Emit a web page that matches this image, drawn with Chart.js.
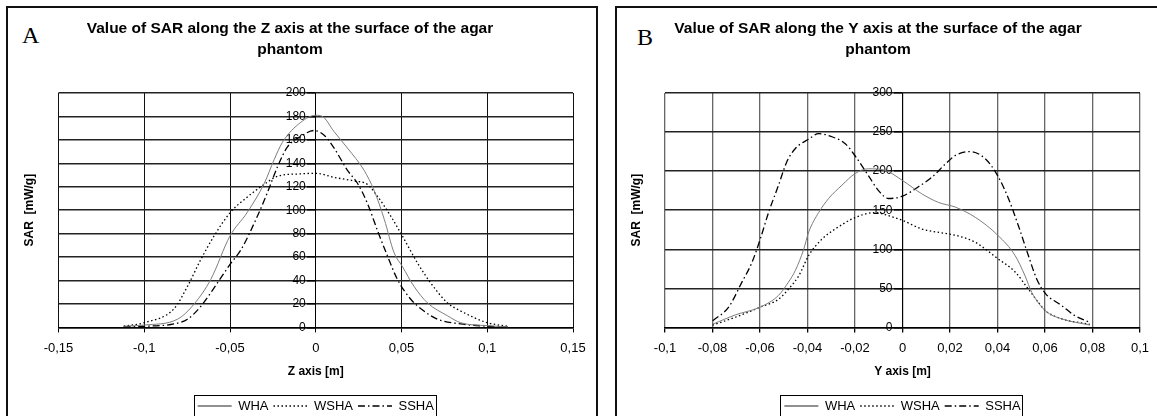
<!DOCTYPE html>
<html><head><meta charset="utf-8">
<script src="https://cdn.jsdelivr.net/npm/chart.js@4/dist/chart.umd.min.js"></script>
<style>
html,body{margin:0;padding:0;background:#fff;width:1157px;height:416px;overflow:hidden;position:relative;}
.panel{position:absolute;border:2px solid #111;box-sizing:border-box;}
#pA{left:6px;top:6px;width:592px;height:430px;}
#pB{left:615px;top:6px;width:550px;height:430px;}
.lab{position:absolute;font-family:'Liberation Serif','Times New Roman',serif;font-size:24px;line-height:24px;color:#000;}
canvas{position:absolute;}
</style></head><body>
<div class="panel" id="pA"></div><div class="panel" id="pB"></div>
<div class="lab" style="left:22px;top:23px">A</div>
<div class="lab" style="left:637px;top:25px">B</div>
<canvas id="cA" width="590" height="420" style="left:7px;top:7px"></canvas>
<canvas id="cB" width="548" height="420" style="left:616px;top:7px"></canvas>
<script>
// ---------- Panel A (Z axis) ----------
const titleA = ['Value of SAR along the Z axis at the surface of the agar', 'phantom'];
const xTitleA = 'Z axis [m]';
const xTicksA = [-0.15, -0.1, -0.05, 0, 0.05, 0.1, 0.15];
const xTickLabelsA = ['-0,15', '-0,1', '-0,05', '0', '0,05', '0,1', '0,15'];
const yTicksA = [0, 20, 40, 60, 80, 100, 120, 140, 160, 180, 200];
const yTickLabelsA = ['0', '20', '40', '60', '80', '100', '120', '140', '160', '180', '200'];

const zA_WHA = [-0.112, -0.100, -0.0806, -0.0709, -0.0612, -0.050, -0.040, -0.030, -0.0243, -0.0194, -0.0087, 0, 0.0039, 0.0107, 0.0185, 0.0282, 0.034, 0.040, 0.0456, 0.0505, 0.0573, 0.0651, 0.0767, 0.0845, 0.100, 0.112];
const sarA_WHA = [1, 2, 7, 20, 41, 78, 98, 123, 143, 158, 175, 181, 180, 167, 153, 134, 117, 92, 64, 52, 35, 21, 10, 4, 1.5, 0.5];

const zA_WSHA = [-0.112, -0.100, -0.0826, -0.0748, -0.067, -0.0593, -0.0499, -0.0418, -0.0301, -0.0223, -0.0087, 0, 0.0107, 0.0223, 0.0301, 0.0359, 0.0437, 0.0505, 0.0593, 0.067, 0.0767, 0.0845, 0.100, 0.112];
const sarA_WSHA = [1, 4, 16, 35, 58, 78, 98, 109, 122, 129, 131, 131.5, 128, 125, 122, 112, 95, 78, 55, 38, 21, 14, 4, 1];

const zA_SSHA = [-0.112, -0.100, -0.0826, -0.0748, -0.067, -0.0573, -0.0499, -0.0437, -0.034, -0.0282, -0.0223, -0.0165, -0.0087, -0.001, 0.0049, 0.0107, 0.0185, 0.0243, 0.0301, 0.0359, 0.0418, 0.0476, 0.0554, 0.0631, 0.0709, 0.0845, 0.100, 0.112];
const sarA_SSHA = [0.5, 1, 3, 7, 18, 38, 54, 66, 95, 115, 137, 154, 163, 168, 164, 153, 134, 123, 106, 83, 61, 41, 24, 14, 7, 3, 1, 0.3];

// ---------- Panel B (Y axis) ----------
const titleB = ['Value of SAR along the Y axis at the surface of the agar', 'phantom'];
const xTitleB = 'Y axis [m]';
const xTicksB = [-0.1, -0.08, -0.06, -0.04, -0.02, 0, 0.02, 0.04, 0.06, 0.08, 0.1];
const xTickLabelsB = ['-0,1', '-0,08', '-0,06', '-0,04', '-0,02', '0', '0,02', '0,04', '0,06', '0,08', '0,1'];
const yTicksB = [0, 50, 100, 150, 200, 250, 300];
const yTickLabelsB = ['0', '50', '100', '150', '200', '250', '300'];

const yB_WHA = [-0.08, -0.0704, -0.0599, -0.0522, -0.048, -0.0451, -0.0416, -0.0395, -0.0353, -0.0311, -0.0255, -0.0199, -0.0143, -0.0073, 0, 0.0081, 0.0151, 0.0222, 0.0306, 0.0401, 0.0474, 0.0516, 0.0544, 0.0603, 0.067, 0.0789];
const sarB_WHA = [4, 16, 26, 41, 58, 73, 100, 122, 147, 165, 182, 197, 203, 201, 188, 171, 160, 154, 141, 118, 92, 66, 45, 21, 11, 3];

const yB_WSHA = [-0.08, -0.0704, -0.0599, -0.0522, -0.048, -0.0437, -0.0395, -0.0339, -0.0283, -0.0196, -0.0115, -0.0059, 0, 0.0081, 0.0165, 0.0222, 0.0306, 0.0401, 0.0474, 0.053, 0.0572, 0.0603, 0.067, 0.0789];
const sarB_WSHA = [3, 13, 26, 36, 49, 66, 92, 113, 126, 141, 147, 143, 137, 126, 121, 118, 109, 88, 71, 49, 32, 21, 11, 4];

const yB_SSHA = [-0.0799, -0.0732, -0.0676, -0.0634, -0.0599, -0.0564, -0.0522, -0.0487, -0.0451, -0.0395, -0.0353, -0.0297, -0.0241, -0.0196, -0.0143, -0.0101, -0.0059, 0, 0.0067, 0.0123, 0.018, 0.0222, 0.0285, 0.0348, 0.0401, 0.0446, 0.0488, 0.053, 0.0565, 0.0603, 0.067, 0.0726, 0.0789];
const sarB_SSHA = [8.5, 26, 58, 83, 113, 147, 182, 212, 229, 241, 248, 244, 235, 218, 194, 175, 165, 168, 180, 192, 209, 220, 225, 216, 194, 165, 130, 92, 62, 43, 28, 15, 6.4];

const seriesNames = ['WHA', 'WSHA', 'SSHA'];
const yTitle = 'SAR  [mW/g]';

const FONT = "'Liberation Sans', Arial, Helvetica, sans-serif";
const pts = (xs, ys) => xs.map((x, i) => ({x: x, y: ys[i]}));

const legendBox = {
  id: 'legendBox',
  afterDraw(chart) {
    const lg = chart.legend;
    if (!lg || !lg.legendHitBoxes || !lg.legendHitBoxes.length) return;
    let l = Infinity, r = -Infinity, t = Infinity, b = -Infinity;
    lg.legendHitBoxes.forEach(h => {
      l = Math.min(l, h.left); r = Math.max(r, h.left + h.width);
      t = Math.min(t, h.top); b = Math.max(b, h.top + h.height);
    });
    const ctx = chart.ctx;
    ctx.save();
    ctx.strokeStyle = '#000'; ctx.lineWidth = 1; ctx.setLineDash([]);
    ctx.strokeRect(Math.round(l - 4) + 0.5, Math.round(t - 4.5) + 0.5, Math.round(r - l + 6), Math.round(b - t + 9));
    ctx.restore();
  }
};

function makeChart(id, cfg) {
  const styles = [
    {borderColor: '#7d7d7d', borderWidth: 1, borderDash: [], legendColor: '#222'},
    {borderColor: '#000', borderWidth: 1.3, borderDash: [1.5, 2.5], legendColor: '#000'},
    {borderColor: '#000', borderWidth: 1.3, borderDash: [7, 3, 1.5, 3], legendColor: '#000'}
  ];
  const datasets = cfg.series.map((s, i) => Object.assign({
    label: seriesNames[i], data: pts(s[0], s[1]), yAxisID: 'y', xAxisID: 'x',
    pointRadius: 0, fill: false, tension: 0.3, cubicInterpolationMode: 'monotone', backgroundColor: 'transparent'
  }, styles[i]));
  return new Chart(document.getElementById(id), {
    type: 'line',
    data: {datasets},
    plugins: [legendBox],
    options: {
      responsive: false, animation: false, devicePixelRatio: 1,
      layout: {padding: {left: 0, right: cfg.padRight, top: 0, bottom: 4.5}},
      plugins: {
        tooltip: {enabled: false},
        title: {display: true, text: cfg.title, color: '#000',
          font: {family: FONT, size: 15.5, weight: 'bold', lineHeight: '21px'},
          padding: {top: 11.5, bottom: 32.5}},
        legend: {display: true, position: 'bottom', fullSize: false,
          labels: {color: '#000', font: {family: FONT, size: 13}, usePointStyle: true, pointStyle: 'line', pointStyleWidth: 34, boxHeight: 13, padding: 5,
            generateLabels(chart) {
              const items = Chart.defaults.plugins.legend.labels.generateLabels(chart);
              items.forEach(it => {
                const ds = chart.data.datasets[it.datasetIndex];
                it.lineDash = ds.borderDash;
                it.strokeStyle = ds.legendColor;
                it.lineWidth = ds.borderWidth;
                it.pointStyle = 'line';
              });
              return items;
            }}}
      },
      scales: {
        yT: {type: 'linear', position: 'left', display: true,
          ticks: {display: false}, grid: {display: false, drawTicks: false}, border: {display: false},
          title: {display: true, text: yTitle, color: '#000', font: {family: FONT, size: 12, weight: 'bold'},
            padding: {top: cfg.yTitlePadTop, bottom: cfg.yTitlePadBottom}}},
        x: {type: 'linear', position: 'bottom', min: cfg.xTicks[0], max: cfg.xTicks[cfg.xTicks.length - 1],
          afterBuildTicks: s => { s.ticks = cfg.xTicks.map(v => ({value: v})); },
          ticks: {callback: (v, i) => cfg.xLabels[i], color: '#000', font: {family: FONT, size: 13}, padding: 7.9, maxRotation: 0, autoSkip: false},
          grid: {color: cfg.xGridColor, lineWidth: cfg.xGridWidth, tickLength: 5, tickColor: '#000'},
          border: {display: true, color: '#000', width: 1.5},
          title: {display: true, text: cfg.xTitle, color: '#000', font: {family: FONT, size: 12, weight: 'bold'}, padding: {top: 1, bottom: 15.3}}},
        y: {type: 'linear', position: {x: 0}, min: cfg.yTicks[0], max: cfg.yTicks[cfg.yTicks.length - 1],
          afterBuildTicks: s => { s.ticks = cfg.yTicks.map(v => ({value: v})); },
          ticks: {callback: (v, i) => cfg.yLabels[i] + '   ', color: '#000', font: {family: FONT, size: 12}, padding: 2},
          grid: {color: '#222', lineWidth: 1.5, tickLength: 8, tickColor: '#000'},
          border: {display: true, color: '#000', width: 1}}
      }
    }
  });
}

makeChart('cA', {
  title: titleA, xTitle: xTitleA, xTicks: xTicksA, xLabels: xTickLabelsA, yTicks: yTicksA, yLabels: yTickLabelsA,
  series: [[zA_WHA, sarA_WHA], [zA_WSHA, sarA_WSHA], [zA_SSHA, sarA_SSHA]],
  padRight: 24, yTitlePadTop: 15.4, yTitlePadBottom: 21.7, xGridColor: '#111', xGridWidth: 1
});
makeChart('cB', {
  title: titleB, xTitle: xTitleB, xTicks: xTicksB, xLabels: xTickLabelsB, yTicks: yTicksB, yLabels: yTickLabelsB,
  series: [[yB_WHA, sarB_WHA], [yB_WSHA, sarB_WSHA], [yB_SSHA, sarB_SSHA]],
  padRight: 24, yTitlePadTop: 13.8, yTitlePadBottom: 20.8, xGridColor: '#666', xGridWidth: 1.3
});
</script>
</body></html>
